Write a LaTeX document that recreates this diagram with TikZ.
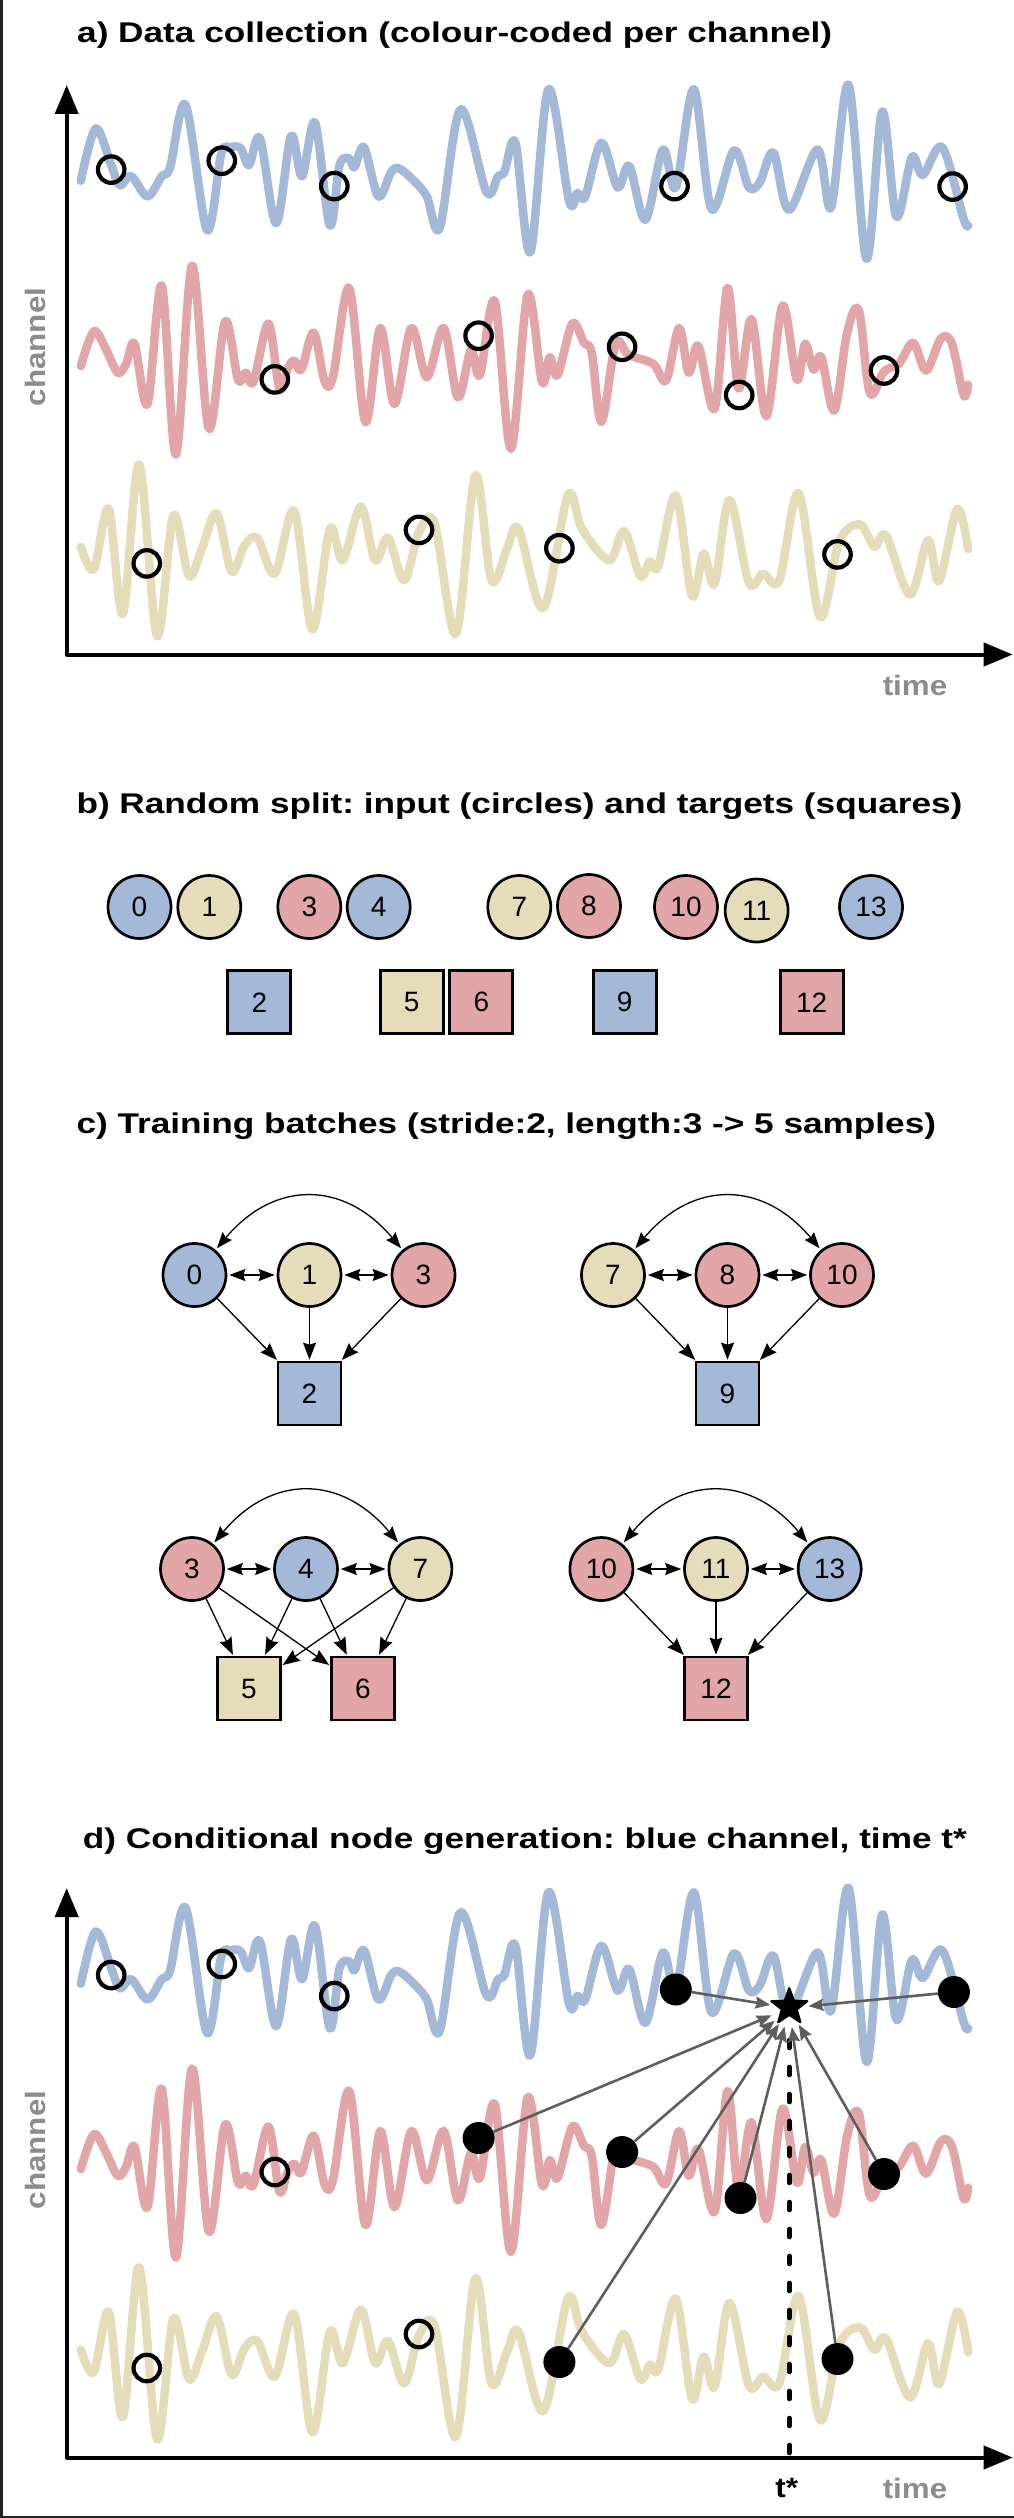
\documentclass[tikz,border=0pt]{standalone}
\usepackage{fontspec}
\usepackage{graphicx}
\setmainfont{Liberation Sans}
\frenchspacing
\usetikzlibrary{arrows.meta,shapes.geometric}
\definecolor{cblue}{HTML}{A4B8D8}
\definecolor{cyel}{HTML}{E5DDB9}
\definecolor{cred}{HTML}{E2A6A8}
\definecolor{framec}{HTML}{232323}
\definecolor{lgray}{HTML}{8C8C8C}
\definecolor{agray}{HTML}{5E5E5E}
\newcommand\ttl[1]{\scalebox{1.235}[1]{\fontsize{28.5}{34}\selectfont\bfseries\frenchspacing #1}}
\newcommand\axl[1]{\scalebox{1.12}[1]{\fontsize{28}{32}\selectfont\bfseries #1}}
\newcommand\lab{\fontsize{28}{30}\selectfont}
\newcommand\drawwaves{%
\draw[wave,cblue] plot[smooth,tension=0.55] coordinates {(125,405) (148,288) (172,370) (185,415) (203,395) (228,440) (250,395) (263,375) (287,235) (320,515) (342,345) (356,330) (372,332) (385,370) (402,310) (427,500) (450,305) (467,395) (487,275) (510,505) (525,370) (540,355) (548,375) (563,330) (585,440) (605,385) (618,378) (640,405) (660,440) (680,510) (712,245) (752,430) (770,395) (780,385) (797,320) (820,565) (848,200) (880,450) (893,432) (905,440) (930,320) (955,420) (973,372) (998,492) (1025,335) (1045,420) (1073,200) (1100,468) (1135,337) (1158,420) (1175,408) (1196,342) (1220,470) (1264,335) (1285,465) (1312,190) (1340,580) (1364,250) (1386,485) (1410,352) (1427,392) (1457,330) (1490,490) (1497,505)};
\draw[wave,cred] plot[smooth,tension=0.55] coordinates {(125,820) (145,742) (163,780) (182,835) (195,815) (208,770) (228,905) (250,640) (272,1018) (297,595) (323,960) (348,720) (368,850) (380,835) (392,855) (415,725) (432,870) (445,825) (455,808) (466,828) (485,745) (502,855) (515,843) (540,645) (565,945) (588,735) (610,905) (636,735) (660,845) (686,735) (708,890) (728,785) (742,840) (765,675) (790,1005) (816,660) (838,855) (850,800) (862,840) (885,725) (903,768) (915,790) (930,945) (952,770) (972,795) (1010,815) (1030,852) (1050,735) (1065,835) (1080,775) (1105,915) (1125,645) (1142,870) (1162,715) (1185,932) (1210,685) (1232,850) (1245,770) (1258,828) (1270,800) (1290,920) (1310,745) (1328,695) (1345,880) (1367,832) (1390,815) (1412,768) (1432,830) (1455,758) (1472,770) (1490,885) (1497,862)};
\draw[wave,cyel] plot[smooth,tension=0.55] coordinates {(125,1225) (145,1275) (168,1140) (190,1375) (215,1040) (243,1425) (268,1155) (292,1290) (312,1230) (335,1150) (358,1280) (378,1222) (398,1205) (425,1285) (455,1145) (483,1410) (510,1185) (530,1255) (558,1135) (580,1255) (600,1205) (625,1300) (648,1192) (672,1172) (705,1420) (735,1065) (760,1300) (785,1225) (802,1185) (840,1362) (878,1110) (900,1185) (942,1255) (965,1190) (990,1290) (1005,1258) (1018,1268) (1045,1110) (1070,1335) (1088,1240) (1105,1308) (1128,1120) (1158,1305) (1180,1285) (1205,1300) (1235,1105) (1268,1382) (1298,1212) (1330,1175) (1352,1225) (1370,1200) (1407,1332) (1435,1210) (1452,1302) (1480,1140) (1497,1230)};
}
\begin{document}
\begin{tikzpicture}[x=1pt,y=-1pt,
  wave/.style={line width=8.5pt,line cap=round,line join=round},
  ocirc/.style={circle,draw=black,line width=4.2pt,minimum size=26.5pt,inner sep=0pt},
  fcirc/.style={circle,fill=black,minimum size=32pt,inner sep=0pt},
  axis/.style={line width=4pt,line cap=round,line join=round,
    {Triangle[length=29pt,width=23pt]}-{Triangle[length=29pt,width=23pt]}},
  gnode/.style={circle,draw=black,line width=2.7pt,minimum size=63pt,inner sep=0pt,font=\lab},
  gsq/.style={rectangle,draw=black,line width=2.7pt,minimum size=63pt,inner sep=0pt,font=\lab},
  carr/.style={line width=1.3pt,-{Stealth[length=17pt,width=13pt,inset=2pt]},shorten >=1pt},
  biarr/.style={line width=1.3pt,{Stealth[length=16pt,width=12pt,inset=2pt]}-{Stealth[length=16pt,width=12pt,inset=2pt]},shorten >=2pt,shorten <=2pt},
  darr/.style={agray,line width=2.6pt,-{Stealth[length=15pt,width=12pt,inset=2pt]}},
  ttlnode/.style={anchor=base west,inner sep=0pt}]
\useasboundingbox (0,0) rectangle (1014,2518);
\fill[white] (0,0) rectangle (1014,2518);
\fill[framec] (0,0) rectangle (3,2518);
\fill[framec] (0,2515.5) rectangle (1014,2518);

% ---------------- panel a
\node[ttlnode] (ta) at (77,42.7) {\ttl{a) Data collection (colour-coded per channel)}};
\begin{scope}[x=0.6467pt,y=-0.4464pt]
\drawwaves
\end{scope}
\coordinate (aYt) at (66.7,85);
\coordinate (aO) at (66.7,654.5);
\coordinate (aXr) at (1012.7,654.5);
\draw[axis] (aYt) -- (aO) -- (aXr);
\node[rotate=90,lgray,inner sep=0pt] (achan) at (35.5,347) {\axl{channel}};
\node[lgray,inner sep=0pt] (atime) at (915,685) {\axl{time}};
\node[ocirc] (ab1) at (111.2,169.6) {};
\node[ocirc] (ab2) at (221.8,160.7) {};
\node[ocirc] (ab3) at (334.3,186.1) {};
\node[ocirc] (ab4) at (674.5,186.1) {};
\node[ocirc] (ab5) at (952.6,186.6) {};
\node[ocirc] (ar1) at (274.8,379.4) {};
\node[ocirc] (ar2) at (478.6,335.7) {};
\node[ocirc] (ar3) at (622.1,346.8) {};
\node[ocirc] (ar4) at (739.2,395) {};
\node[ocirc] (ar5) at (884,370.5) {};
\node[ocirc] (ay1) at (146.8,563.4) {};
\node[ocirc] (ay2) at (419,529.9) {};
\node[ocirc] (ay3) at (559.4,548.2) {};
\node[ocirc] (ay4) at (837.5,554.4) {};

% ---------------- panel b
\node[ttlnode] (tb) at (76.3,813.3) {\ttl{b) Random split: input (circles) and targets (squares)}};
\node[gnode,fill=cblue] (b0) at (139.5,907) {0};
\node[gnode,fill=cyel] (b1) at (209.3,907) {1};
\node[gnode,fill=cred] (b3) at (309.3,907) {3};
\node[gnode,fill=cblue] (b4) at (378.7,907) {4};
\node[gnode,fill=cyel] (b7) at (519.3,907) {7};
\node[gnode,fill=cred] (b8) at (589,906) {8};
\node[gnode,fill=cred] (b10) at (686,907) {10};
\node[gnode,fill=cyel] (b11) at (756.6,910.5) {11};
\node[gnode,fill=cblue] (b13) at (871,907) {13};
\node[gsq,fill=cblue] (b2) at (259.3,1002.3) {2};
\node[gsq,fill=cyel] (b5) at (411.7,1002.3) {5};
\node[gsq,fill=cred] (b6) at (481.3,1002.3) {6};
\node[gsq,fill=cblue] (b9) at (624.7,1002.3) {9};
\node[gsq,fill=cred] (b12) at (811.7,1002.3) {12};

% ---------------- panel c
\node[ttlnode] (tc) at (76.3,1133.7) {\ttl{c) Training batches (stride:2, length:3 -> 5 samples)}};
% group 1
\node[gnode,fill=cblue] (g1a) at (194.5,1275) {0};
\node[gnode,fill=cyel] (g1b) at (309.5,1275) {1};
\node[gnode,fill=cred] (g1c) at (423.5,1275) {3};
\node[gsq,fill=cblue] (g1s) at (309.5,1393.5) {2};
\draw[biarr] (g1a) -- (g1b);
\draw[biarr] (g1b) -- (g1c);
\draw[biarr] (g1a) to[out=50,in=130,looseness=1.25] (g1c);
\draw[carr] (g1a) -- (g1s);
\draw[carr] (g1b) -- (g1s);
\draw[carr] (g1c) -- (g1s);
% group 2
\node[gnode,fill=cyel] (g2a) at (613,1275) {7};
\node[gnode,fill=cred] (g2b) at (727.5,1275) {8};
\node[gnode,fill=cred] (g2c) at (842,1275) {10};
\node[gsq,fill=cblue] (g2s) at (727.5,1393.5) {9};
\draw[biarr] (g2a) -- (g2b);
\draw[biarr] (g2b) -- (g2c);
\draw[biarr] (g2a) to[out=50,in=130,looseness=1.25] (g2c);
\draw[carr] (g2a) -- (g2s);
\draw[carr] (g2b) -- (g2s);
\draw[carr] (g2c) -- (g2s);
% group 3
\node[gnode,fill=cred] (g3a) at (192,1569) {3};
\node[gnode,fill=cblue] (g3b) at (306,1569) {4};
\node[gnode,fill=cyel] (g3c) at (420.4,1569) {7};
\node[gsq,fill=cyel] (g3s) at (249,1688.5) {5};
\node[gsq,fill=cred] (g3t) at (362.8,1688.5) {6};
\draw[biarr] (g3a) -- (g3b);
\draw[biarr] (g3b) -- (g3c);
\draw[biarr] (g3a) to[out=50,in=130,looseness=1.25] (g3c);
\draw[carr] (g3a) -- (g3s);
\draw[carr] (g3a) -- (g3t);
\draw[carr] (g3b) -- (g3s);
\draw[carr] (g3b) -- (g3t);
\draw[carr] (g3c) -- (g3s);
\draw[carr] (g3c) -- (g3t);
% group 4
\node[gnode,fill=cred] (g4a) at (601.4,1569) {10};
\node[gnode,fill=cyel] (g4b) at (716,1569) {11};
\node[gnode,fill=cblue] (g4c) at (829.7,1569) {13};
\node[gsq,fill=cred] (g4s) at (716,1688.5) {12};
\draw[biarr] (g4a) -- (g4b);
\draw[biarr] (g4b) -- (g4c);
\draw[biarr] (g4a) to[out=50,in=130,looseness=1.25] (g4c);
\draw[carr] (g4a) -- (g4s);
\draw[carr] (g4b) -- (g4s);
\draw[carr] (g4c) -- (g4s);

% ---------------- panel d
\node[ttlnode] (td) at (82.7,1848.3) {\ttl{d) Conditional node generation: blue channel, time t*}};
\begin{scope}[yshift=-1803pt,x=0.6467pt,y=-0.4464pt]
\drawwaves
\end{scope}
\coordinate (dYt) at (66.7,1888);
\coordinate (dO) at (66.7,2457.5);
\coordinate (dXr) at (1012.7,2457.5);
\coordinate (tsTop) at (789.3,2040);
\coordinate (tsBot) at (789.3,2455);
\draw[line width=4.6pt,line cap=round,dash pattern=on 8pt off 19pt] (tsTop) -- (tsBot);
\draw[axis] (dYt) -- (dO) -- (dXr);
\node[rotate=90,lgray,inner sep=0pt] (dchan) at (35.5,2150) {\axl{channel}};
\node[lgray,inner sep=0pt] (dtime) at (915,2488) {\axl{time}};
\node[inner sep=0pt] (dts) at (786.7,2488) {\axl{t*}};
\node[ocirc] (db1) at (111.2,1975) {};
\node[ocirc] (db2) at (221.8,1964) {};
\node[ocirc] (db3) at (334.3,1996) {};
\node[ocirc] (dr1) at (274.8,2172) {};
\node[ocirc] (dy1) at (146.8,2368) {};
\node[ocirc] (dy2) at (419,2334) {};
\node[fcirc] (fb1) at (675.8,1989.5) {};
\node[fcirc] (fb2) at (953.9,1992) {};
\node[fcirc] (fr1) at (478.6,2138) {};
\node[fcirc] (fr2) at (622.1,2152) {};
\node[fcirc] (fr3) at (740.5,2198) {};
\node[fcirc] (fr4) at (884,2174) {};
\node[fcirc] (fy1) at (559.4,2362) {};
\node[fcirc] (fy2) at (837.5,2359) {};
\node[star,star points=5,star point ratio=2.4,fill=black,draw=black,line width=2pt,line join=round,minimum size=38pt,inner sep=0pt] (st) at (789.3,2007) {};
\node[circle,minimum size=38pt,inner sep=0pt] (stz) at (789.3,2008) {};
\draw[darr] (fb1) -- (stz);
\draw[darr] (fb2) -- (stz);
\draw[darr] (fr1) -- (stz);
\draw[darr] (fr2) -- (stz);
\draw[darr] (fr3) -- (stz);
\draw[darr] (fr4) -- (stz);
\draw[darr] (fy1) -- (stz);
\draw[darr] (fy2) -- (stz);
\end{tikzpicture}
\end{document}
